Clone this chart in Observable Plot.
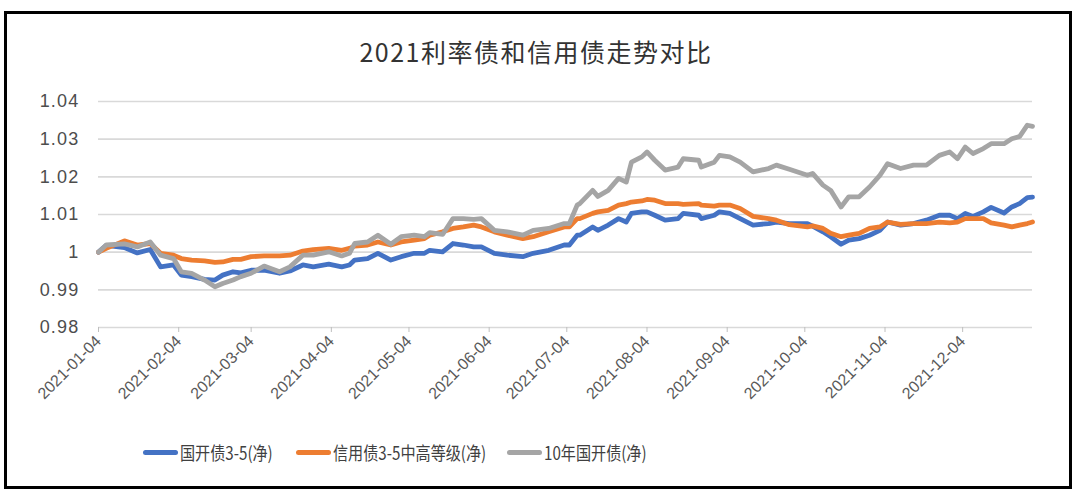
<!DOCTYPE html>
<html>
<head>
<meta charset="utf-8">
<script src="https://cdn.jsdelivr.net/npm/d3@7"></script>
<script src="https://cdn.jsdelivr.net/npm/@observablehq/plot@0.6"></script>
<style>
  html, body { margin: 0; padding: 0; background: #fff; }
  #wrap { position: relative; width: 1080px; height: 495px; overflow: hidden; background: #fff; }
  #frame { position: absolute; left: 4px; top: 11px; width: 1068px; height: 478px; box-sizing: border-box; border: 3px solid #000; }
  #title { position: absolute; left: 0; width: 1072px; top: 34px; text-align: center; font-family: "Noto Sans CJK SC", sans-serif; font-size: 25px; letter-spacing: 1.5px; color: #333; line-height: 34px; }
  #chart { position: absolute; left: 0; top: 0; }
  .leg { position: absolute; top: 440px; height: 24px; display: flex; align-items: center; font-family: "Noto Sans CJK SC", sans-serif; font-size: 18px; color: #404040; white-space: nowrap; }
  .leg i { display: inline-block; width: 35px; height: 5px; border-radius: 3px; margin-right: 2px; }
  .leg span { display: inline-block; transform: scaleX(0.84); transform-origin: left center; }
  g[aria-label="y-axis tick label"] text { letter-spacing: 1.2px; }
</style>
</head>
<body>
<div id="wrap">
  <div id="frame"></div>
  <div id="title"></div>
  <div id="chart"></div>
  <div id="legend"></div>
</div>
<script>
const title = "2021利率债和信用债走势对比";
const seriesNames = ["国开债3-5(净)", "信用债3-5中高等级(净)", "10年国开债(净)"];
const seriesColors = ["#4472C4", "#ED7D31", "#A5A5A5"];
const xTickLabels = ["2021-01-04","2021-02-04","2021-03-04","2021-04-04","2021-05-04","2021-06-04","2021-07-04","2021-08-04","2021-09-04","2021-10-04","2021-11-04","2021-12-04"];
const yTicks = [0.98, 0.99, 1.00, 1.01, 1.02, 1.03, 1.04];

const dates = ["2021-01-04","2021-01-07","2021-01-14","2021-01-19","2021-01-24","2021-01-28","2021-02-02","2021-02-05","2021-02-09","2021-02-14",
"2021-02-18","2021-02-21","2021-02-25","2021-02-28","2021-03-04","2021-03-09","2021-03-15","2021-03-19","2021-03-24","2021-03-28",
"2021-04-03","2021-04-08","2021-04-11","2021-04-13","2021-04-18","2021-04-22","2021-04-27","2021-05-01","2021-05-06","2021-05-10",
"2021-05-12","2021-05-17","2021-05-21","2021-05-25","2021-05-29","2021-06-01","2021-06-06","2021-06-11","2021-06-17","2021-06-21",
"2021-06-27","2021-07-03","2021-07-05","2021-07-08","2021-07-09","2021-07-14","2021-07-16","2021-07-20","2021-07-24","2021-07-27",
"2021-07-29","2021-08-02","2021-08-04","2021-08-07","2021-08-11","2021-08-16","2021-08-18","2021-08-24","2021-08-25","2021-08-30",
"2021-09-01","2021-09-05","2021-09-09","2021-09-14","2021-09-20","2021-09-23","2021-09-28","2021-10-05","2021-10-07","2021-10-11",
"2021-10-14","2021-10-18","2021-10-21","2021-10-25","2021-10-29","2021-11-02","2021-11-05","2021-11-10","2021-11-15","2021-11-20",
"2021-11-25","2021-11-29","2021-12-02","2021-12-05","2021-12-08","2021-12-12","2021-12-15","2021-12-20","2021-12-23","2021-12-26",
"2021-12-29","2021-12-31"];

const gk35 = [1.0000,1.0018,1.0012,0.9998,1.0007,0.9961,0.9966,0.9939,0.9935,0.9928,
0.9926,0.9939,0.9948,0.9945,0.9952,0.9952,0.9944,0.9950,0.9966,0.9961,
0.9968,0.9961,0.9966,0.9979,0.9983,0.9997,0.9979,0.9988,0.9997,0.9997,
1.0005,1.0001,1.0023,1.0019,1.0014,1.0014,0.9997,0.9992,0.9988,0.9997,
1.0005,1.0019,1.0019,1.0045,1.0045,1.0067,1.0058,1.0072,1.0089,1.0080,
1.0103,1.0107,1.0107,1.0098,1.0085,1.0089,1.0103,1.0098,1.0089,1.0098,
1.0107,1.0103,1.0089,1.0072,1.0076,1.0080,1.0076,1.0076,1.0069,1.0054,
1.0041,1.0021,1.0032,1.0036,1.0045,1.0058,1.0080,1.0072,1.0076,1.0085,
1.0098,1.0098,1.0089,1.0103,1.0095,1.0107,1.0119,1.0104,1.0120,1.0129,
1.0145,1.0146];

const xy35 = [1.0000,1.0010,1.0030,1.0019,1.0023,0.9997,0.9992,0.9983,0.9979,0.9977,
0.9973,0.9974,0.9981,0.9981,0.9988,0.9990,0.9990,0.9992,1.0003,1.0007,
1.0010,1.0005,1.0010,1.0016,1.0019,1.0027,1.0019,1.0027,1.0032,1.0036,
1.0045,1.0054,1.0063,1.0067,1.0072,1.0067,1.0054,1.0045,1.0036,1.0041,
1.0054,1.0067,1.0067,1.0089,1.0089,1.0103,1.0107,1.0111,1.0125,1.0129,
1.0133,1.0136,1.0140,1.0138,1.0129,1.0129,1.0127,1.0129,1.0125,1.0122,
1.0125,1.0125,1.0116,1.0095,1.0089,1.0085,1.0073,1.0067,1.0070,1.0063,
1.0050,1.0041,1.0045,1.0050,1.0063,1.0067,1.0080,1.0074,1.0076,1.0076,
1.0080,1.0078,1.0080,1.0089,1.0089,1.0089,1.0078,1.0072,1.0067,1.0072,
1.0076,1.0080];

const gk10 = [1.0000,1.0019,1.0022,1.0014,1.0027,0.9992,0.9983,0.9948,0.9944,0.9926,
0.9908,0.9917,0.9926,0.9935,0.9944,0.9963,0.9948,0.9961,0.9992,0.9992,
1.0001,0.9990,0.9997,1.0023,1.0027,1.0045,1.0021,1.0041,1.0045,1.0041,
1.0052,1.0047,1.0089,1.0089,1.0087,1.0089,1.0058,1.0054,1.0045,1.0058,
1.0063,1.0076,1.0076,1.0125,1.0129,1.0164,1.0148,1.0164,1.0196,1.0186,
1.0239,1.0253,1.0266,1.0244,1.0218,1.0226,1.0248,1.0244,1.0226,1.0239,
1.0257,1.0253,1.0239,1.0213,1.0222,1.0231,1.0220,1.0204,1.0209,1.0178,
1.0164,1.0120,1.0147,1.0147,1.0173,1.0204,1.0235,1.0222,1.0231,1.0231,
1.0257,1.0266,1.0248,1.0279,1.0262,1.0275,1.0288,1.0288,1.0301,1.0307,
1.0337,1.0334];

const seriesValues = [gk35, xy35, gk10];
const rows = [];
seriesValues.forEach((vals, s) => {
  vals.forEach((v, i) => rows.push({date: new Date(dates[i]), value: v, series: seriesNames[s]}));
});

document.getElementById("title").textContent = title;

const fmtDate = d3.utcFormat("%Y-%m-%d");
const plot = Plot.plot({
  width: 1080,
  height: 420,
  marginTop: 101,
  marginLeft: 98,
  marginRight: 48,
  marginBottom: 93,
  style: { background: "transparent", fontFamily: "'Liberation Sans', 'Noto Sans CJK SC', sans-serif" },
  x: { type: "utc", domain: [new Date("2021-01-04"), new Date("2021-12-31")] },
  y: { domain: [0.98, 1.04] },
  color: { domain: seriesNames, range: seriesColors },
  marks: [
    Plot.ruleY(yTicks, { stroke: "#d9d9d9", strokeWidth: 1.6 }),
    Plot.axisY({ ticks: yTicks, tickFormat: d => String(+d.toFixed(2)), tickSize: 0, tickPadding: 19, fontSize: 18, fill: "#4d4d4d", label: null }),
    Plot.axisX({ ticks: xTickLabels.map(s => new Date(s)), tickFormat: fmtDate, tickRotate: -45, tickSize: 5, tickPadding: 6, stroke: "#bfbfbf", fill: "#595959", fontSize: 16, label: null }),
    Plot.line(rows, { x: "date", y: "value", z: "series", stroke: "series", strokeWidth: 4.8, strokeLinejoin: "round", strokeLinecap: "round" })
  ]
});
document.getElementById("chart").appendChild(plot);

const legendPos = [143, 296, 507];
const legend = document.getElementById("legend");
seriesNames.forEach((name, i) => {
  const item = document.createElement("div");
  item.className = "leg";
  item.style.left = legendPos[i] + "px";
  const sw = document.createElement("i");
  sw.style.background = seriesColors[i];
  item.appendChild(sw);
  const tx = document.createElement("span");
  tx.textContent = name;
  item.appendChild(tx);
  legend.appendChild(item);
});
</script>
</body>
</html>
